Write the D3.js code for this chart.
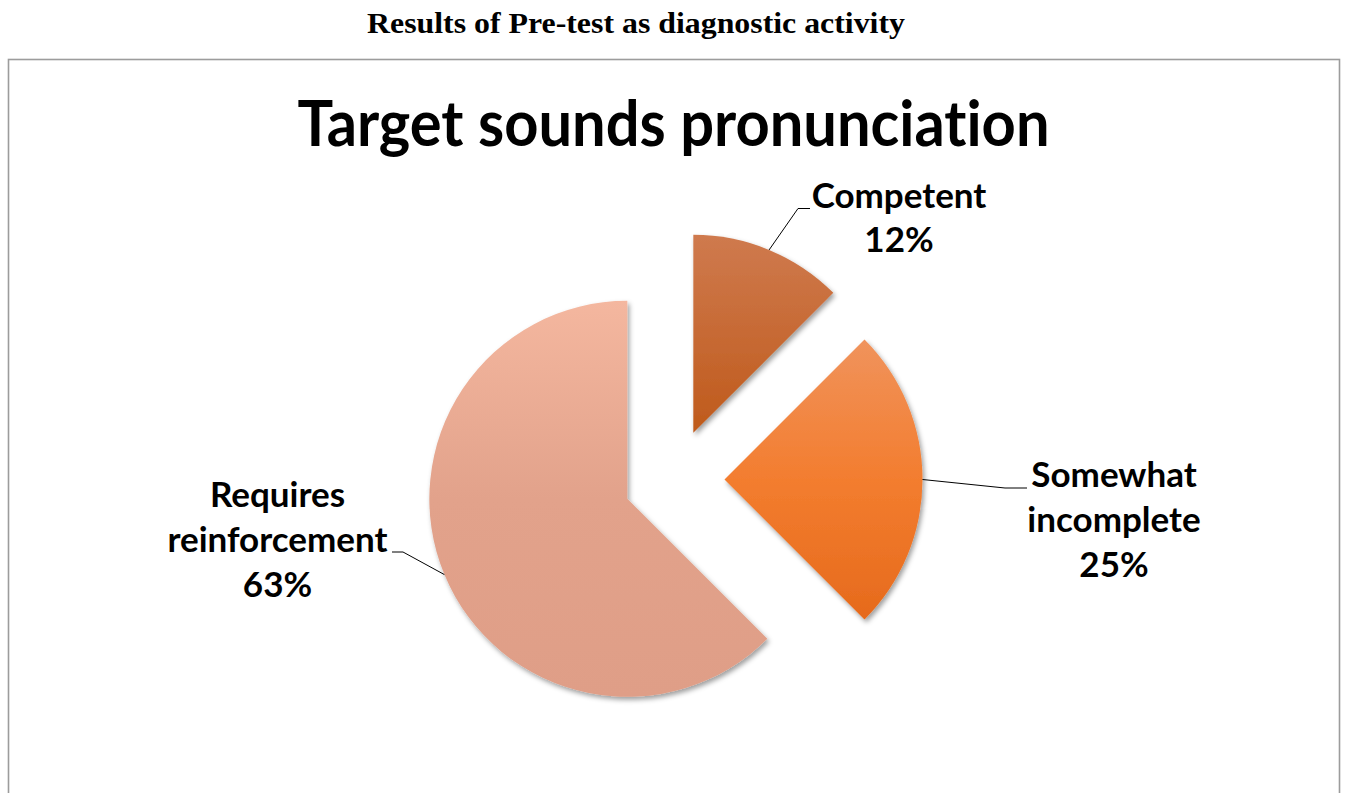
<!DOCTYPE html>
<html>
<head>
<meta charset="utf-8">
<script src="https://cdn.jsdelivr.net/npm/d3@7"></script>
<style>
  html, body { margin: 0; padding: 0; background: #fff; }
  svg { display: block; }
  text { font-variant-ligatures: none; font-feature-settings: "liga" 0, "clig" 0, "dlig" 0, "calt" 0; }
</style>
</head>
<body>
<svg id="chart" width="1348" height="793"></svg>
<script>
// ---------- data ----------
const categories = ["Competent", "Somewhat incomplete", "Requires reinforcement"];
const values = [12.5, 25, 62.5];
const pctLabels = ["12%", "25%", "63%"];
const labelLines = [["Competent"], ["Somewhat", "incomplete"], ["Requires", "reinforcement"]];
const pageTitle = "Results of Pre-test as diagnostic activity";
const chartTitle = "Target sounds pronunciation";

// ---------- styles / layout ----------
const gradients = [
  [["0%", "#CF7A4E"], ["100%", "#BF5A1B"]],
  [["0%", "#F0935C"], ["50%", "#F37D2F"], ["100%", "#E66A1C"]],
  [["0%", "#F4B79F"], ["50%", "#E2A28B"], ["100%", "#DF9E87"]]
];
const labelLayout = [
  { x: 899, y: 207.5, elbow: [798, 208.5], end: [810, 208.5] },
  { x: 1114, y: 487, elbow: [1005, 488], end: [1027, 488] },
  { x: 277.5, y: 507, elbow: [403, 552], end: [392, 552] }
];
const lineGap = 44.8;
const cx = 674, cy = 479.5, R = 198, explode = 50.5;

const svg = d3.select("#chart");
const defs = svg.append("defs");

gradients.forEach((stops, i) => {
  const g = defs.append("linearGradient").attr("id", "grad" + i)
    .attr("x1", 0).attr("y1", 0).attr("x2", 0).attr("y2", 1);
  stops.forEach(s => g.append("stop").attr("offset", s[0]).attr("stop-color", s[1]));
});
const f = defs.append("filter").attr("id", "shadow")
  .attr("x", "-10%").attr("y", "-10%").attr("width", "130%").attr("height", "130%");
f.append("feDropShadow").attr("dx", 2).attr("dy", 3).attr("stdDeviation", 2.5)
  .attr("flood-color", "#000").attr("flood-opacity", 0.38);

// page title
svg.append("text")
  .attr("x", 636).attr("y", 33)
  .attr("text-anchor", "middle")
  .attr("font-family", "'Liberation Serif', 'Times New Roman', serif")
  .attr("font-weight", "bold").attr("font-size", 29.5)
  .attr("textLength", 538).attr("lengthAdjust", "spacingAndGlyphs")
  .text(pageTitle);

// frame
svg.append("rect")
  .attr("x", 8.5).attr("y", 59.5).attr("width", 1331).attr("height", 760)
  .attr("fill", "none").attr("stroke", "#9c9c9c").attr("stroke-width", 1.6);

// chart title
svg.append("text")
  .attr("x", 673.5).attr("y", 146)
  .attr("text-anchor", "middle")
  .attr("font-family", "Lato, 'Open Sans', sans-serif")
  .attr("font-weight", "bold").attr("font-size", 64)
  .attr("textLength", 752).attr("lengthAdjust", "spacingAndGlyphs")
  .text(chartTitle);

// pie
const pie = d3.pie().sort(null).value(d => d).startAngle(0).endAngle(2 * Math.PI);
const arcs = pie(values);
const arc = d3.arc().innerRadius(0).outerRadius(R);

const g = svg.append("g").attr("transform", `translate(${cx},${cy})`);
arcs.forEach((a, i) => {
  const mid = (a.startAngle + a.endAngle) / 2;
  const ox = explode * Math.sin(mid), oy = -explode * Math.cos(mid);
  g.append("path")
    .attr("transform", `translate(${ox},${oy})`)
    .attr("d", arc(a))
    .attr("fill", `url(#grad${i})`)
    .attr("filter", "url(#shadow)");

  // leader line
  const sx = cx + ox + R * Math.sin(mid), sy = cy + oy - R * Math.cos(mid);
  const L = labelLayout[i];
  svg.append("path")
    .attr("d", d3.line()([[sx, sy], L.elbow, L.end]))
    .attr("fill", "none").attr("stroke", "#000").attr("stroke-width", 1);

  // label
  const lines = labelLines[i].concat([pctLabels[i]]);
  const t = svg.append("text")
    .attr("text-anchor", "middle")
    .attr("font-family", "Lato, 'Open Sans', sans-serif")
    .attr("font-weight", "bold").attr("font-size", 35)
    .attr("fill", "#000");
  lines.forEach((ln, j) => {
    t.append("tspan").attr("x", L.x).attr("y", L.y + j * lineGap).text(ln);
  });
});
</script>
</body>
</html>
